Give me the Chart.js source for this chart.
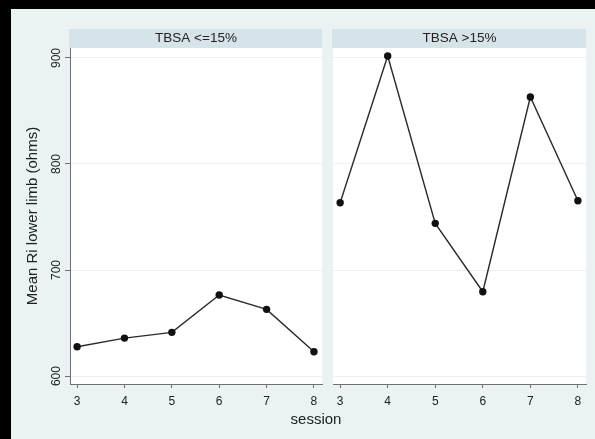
<!DOCTYPE html>
<html>
<head>
<meta charset="utf-8">
<script src="https://cdn.jsdelivr.net/npm/chart.js@4/dist/chart.umd.min.js"></script>
<style>
  html, body { margin: 0; padding: 0; background: #000; }
  #frame { position: absolute; left: 11px; top: 9px; width: 584px; height: 430px; background: #eaf2f3; }
  canvas { position: absolute; }
  #xtitle { position: absolute; left: 216px; width: 200px; top: 410px; text-align: center;
            font: 15px "Liberation Sans", Arial, sans-serif; color: #222; }
</style>
</head>
<body>
<div id="frame"></div>
<canvas id="lowBurn" width="316" height="430" style="left:11px; top:9px;"></canvas>
<canvas id="highBurn" width="268" height="430" style="left:327px; top:9px;"></canvas>
<div id="xtitle">session</div>
<script>
// Mean lower-limb resistance (Ri) by session, split by burn size
const sessions = [3, 4, 5, 6, 7, 8];
const riLowBurn = [627.6, 635.8, 641.2, 676.4, 662.9, 622.9];   // TBSA <=15%
const riHighBurn = [763.5, 901.9, 744.0, 679.5, 863.2, 765.4];  // TBSA >15%
const yTicks = [600, 700, 800, 900];
const panelTitles = ['TBSA <=15%', 'TBSA >15%'];

const FONT = '"Liberation Sans", Arial, sans-serif';
const AXIS = '#6f6f6f';
const GRID = '#eaf2f3';
const INK = '#222';

// white plot region plus the grey strip holding the panel label
const panelPlugin = {
  id: 'panel',
  beforeDraw(chart, args, opts) {
    const { ctx, chartArea: a } = chart;
    ctx.save();
    ctx.fillStyle = '#ffffff';
    ctx.fillRect(a.left, a.top, a.right - a.left, a.bottom - a.top);
    ctx.fillStyle = '#d6e3e9';
    ctx.fillRect(a.left - 1, a.top - 19, a.right - a.left + 1, 19);
    ctx.fillStyle = INK;
    ctx.font = '13.5px ' + FONT;
    ctx.textAlign = 'center';
    ctx.textBaseline = 'middle';
    ctx.fillText(opts.text, (a.left + a.right) / 2, a.top - 9.5);
    ctx.restore();
  }
};

function buildChart(id, values, title, withYAxis, pad) {
  return new Chart(document.getElementById(id), {
    type: 'line',
    data: {
      datasets: [{
        data: sessions.map((s, i) => ({ x: s, y: values[i] })),
        borderColor: '#2b2b2b',
        borderWidth: 1.4,
        pointRadius: 3.7,
        pointBackgroundColor: '#111',
        pointBorderWidth: 0,
        tension: 0
      }]
    },
    options: {
      responsive: false,
      animation: false,
      devicePixelRatio: 1,
      layout: { padding: pad },
      plugins: { legend: { display: false }, tooltip: { enabled: false }, panel: { text: title } },
      scales: {
        x: {
          type: 'linear',
          min: 2.85,
          max: 8.17,
          afterBuildTicks: s => { s.ticks = sessions.map(v => ({ value: v })); },
          afterFit: s => { s.height = 55; },
          grid: { drawOnChartArea: false, drawTicks: true, tickLength: 4, tickColor: AXIS },
          border: { display: true, color: AXIS, width: 1 },
          ticks: { font: { family: FONT, size: 12 }, color: INK, padding: 6, maxRotation: 0 }
        },
        y: {
          type: 'linear',
          min: 592.5,
          max: 909.4,
          afterBuildTicks: s => { s.ticks = yTicks.map(v => ({ value: v })); },
          afterFit: s => { s.width = withYAxis ? 59 : 0; },
          grid: { color: GRID, lineWidth: 1, drawTicks: withYAxis, tickLength: 5, tickColor: AXIS },
          border: { display: withYAxis, color: AXIS, width: 1 },
          ticks: {
            display: withYAxis,
            font: { family: FONT, size: 12 },
            color: INK,
            minRotation: 90,
            maxRotation: 90,
            crossAlign: 'center',
            padding: -2
          },
          title: {
            display: withYAxis,
            text: 'Mean Ri lower limb (ohms)',
            font: { family: FONT, size: 15 },
            color: INK,
            padding: { top: 13, bottom: 0 }
          }
        }
      }
    },
    plugins: [panelPlugin]
  });
}

buildChart('lowBurn', riLowBurn, panelTitles[0], true, { left: 0, top: 39, right: 5, bottom: 0 });
buildChart('highBurn', riHighBurn, panelTitles[1], false, { left: 6, top: 39, right: 9, bottom: 0 });
</script>
</body>
</html>
